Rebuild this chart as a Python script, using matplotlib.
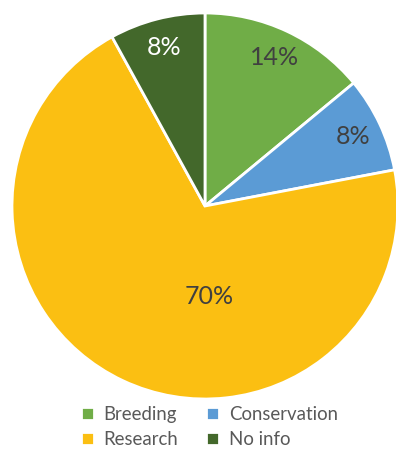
import matplotlib
matplotlib.use("Agg")
import matplotlib.pyplot as plt

# data
labels = ["Breeding", "Conservation", "Research", "No info"]
values = [14, 8, 70, 8]
colors = ["#70AD47", "#5B9BD5", "#FBBF12", "#43682B"]
label_colors = ["#404040", "#404040", "#404040", "#FFFFFF"]

plt.rcParams["font.family"] = ["Lato", "DejaVu Sans"]

fig = plt.figure(figsize=(3.96, 4.5), dpi=100)
ax = fig.add_axes([12 / 396, 51 / 450, 386 / 396, 386 / 450])

wedges, texts, autotexts = ax.pie(
    values, colors=colors, startangle=90, counterclock=False,
    autopct="%1.0f%%", pctdistance=0.85, radius=1,
    wedgeprops=dict(edgecolor="white", linewidth=2),
    textprops=dict(fontsize=18),
)
for t, c in zip(autotexts, label_colors):
    t.set_color(c)
# Excel puts the big slice's label lower, near the middle
autotexts[2].set_position((0.02, -0.47))

ax.set_xlim(-1, 1)
ax.set_ylim(-1, 1)
ax.set_aspect("equal")
ax.axis("off")

# legend is filled row by row in the original
order = [0, 2, 1, 3]
leg = fig.legend([wedges[i] for i in order], [labels[i] for i in order],
                 ncol=2, loc="center", bbox_to_anchor=(0.529, 0.051),
                 frameon=False, fontsize=13.4, handlelength=0.7, handleheight=0.7,
                 handletextpad=0.5, columnspacing=1.5, labelspacing=0.4,
                 borderpad=0, borderaxespad=0)
for t in leg.get_texts():
    t.set_color("#595959")

fig.savefig("out.png", dpi=100)
